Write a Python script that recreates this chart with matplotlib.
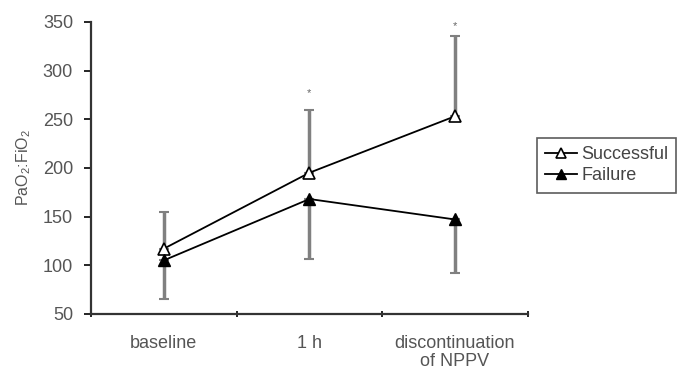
import numpy as np
import matplotlib.pyplot as plt

plt.rcParams['font.family'] = ['Liberation Sans', 'DejaVu Sans']
plt.rcParams['mathtext.fontset'] = 'custom'
plt.rcParams['mathtext.rm'] = 'Liberation Sans'
plt.rcParams['mathtext.it'] = 'Liberation Sans'

categories = ['baseline', '1 h', 'discontinuation\nof NPPV']
successful = [117, 195, 253]
successful_err_up = [38, 64, 83]
failure = [105, 168, 147]
failure_err_down = [40, 62, 55]
star_y = [None, 277, 346]

fig = plt.figure(figsize=(6.8, 3.71), dpi=100)
ax = fig.add_axes([0.134, 0.154, 0.642, 0.787])

x = np.arange(len(categories))

# one-sided error bars: up for successful, down for failure
ax.errorbar(x, successful, yerr=[np.zeros(3), successful_err_up], fmt='none',
            ecolor='#808080', elinewidth=2.5, capsize=3.5, capthick=1.5, zorder=1)
ax.errorbar(x, failure, yerr=[failure_err_down, np.zeros(3)], fmt='none',
            ecolor='#808080', elinewidth=2.5, capsize=3.5, capthick=1.5, zorder=1)

ax.plot(x, successful, color='black', lw=1.3, marker='^', markersize=8,
        markerfacecolor='white', markeredgecolor='black', markeredgewidth=1.2,
        label='Successful', zorder=3)
ax.plot(x, failure, color='black', lw=1.3, marker='^', markersize=8,
        markerfacecolor='black', markeredgecolor='black',
        label='Failure', zorder=3)

for xi, sy in zip(x, star_y):
    if sy is not None:
        ax.text(xi, sy, '*', ha='center', va='center', fontsize=8, color='#666666')

ax.set_xlim(-0.5, 2.5)
ax.set_ylim(50, 350)
ax.set_yticks(range(50, 351, 50))
ax.set_xticks(x)
ax.set_xticklabels(categories, fontsize=13, color='#555555', linespacing=1.1)
ax.set_xticks([-0.5, 0.5, 1.5, 2.5], minor=True)
ax.tick_params(axis='x', which='major', length=0, pad=15)
ax.tick_params(axis='x', which='minor', length=4, width=1.2, direction='inout')
ax.tick_params(axis='y', labelsize=13, labelcolor='#555555', length=5, width=1.2, pad=8)
for s in ['top', 'right']:
    ax.spines[s].set_visible(False)
for s in ['left', 'bottom']:
    ax.spines[s].set_linewidth(1.6)
    ax.spines[s].set_color('#333333')

ax.set_ylabel('PaO$_2$:FiO$_2$', fontsize=11.5, color='#555555', labelpad=7)

leg = ax.legend(loc='upper left', bbox_to_anchor=(1.021, 0.603), frameon=True,
                fancybox=False, edgecolor='#333333', fontsize=13,
                handlelength=1.8, handletextpad=0.2, borderpad=0.45,
                labelspacing=0.25, borderaxespad=0, markerscale=0.9)
leg.get_frame().set_linewidth(1.2)
for t in leg.get_texts():
    t.set_color('#444444')

fig.savefig('out.png', dpi=100)
